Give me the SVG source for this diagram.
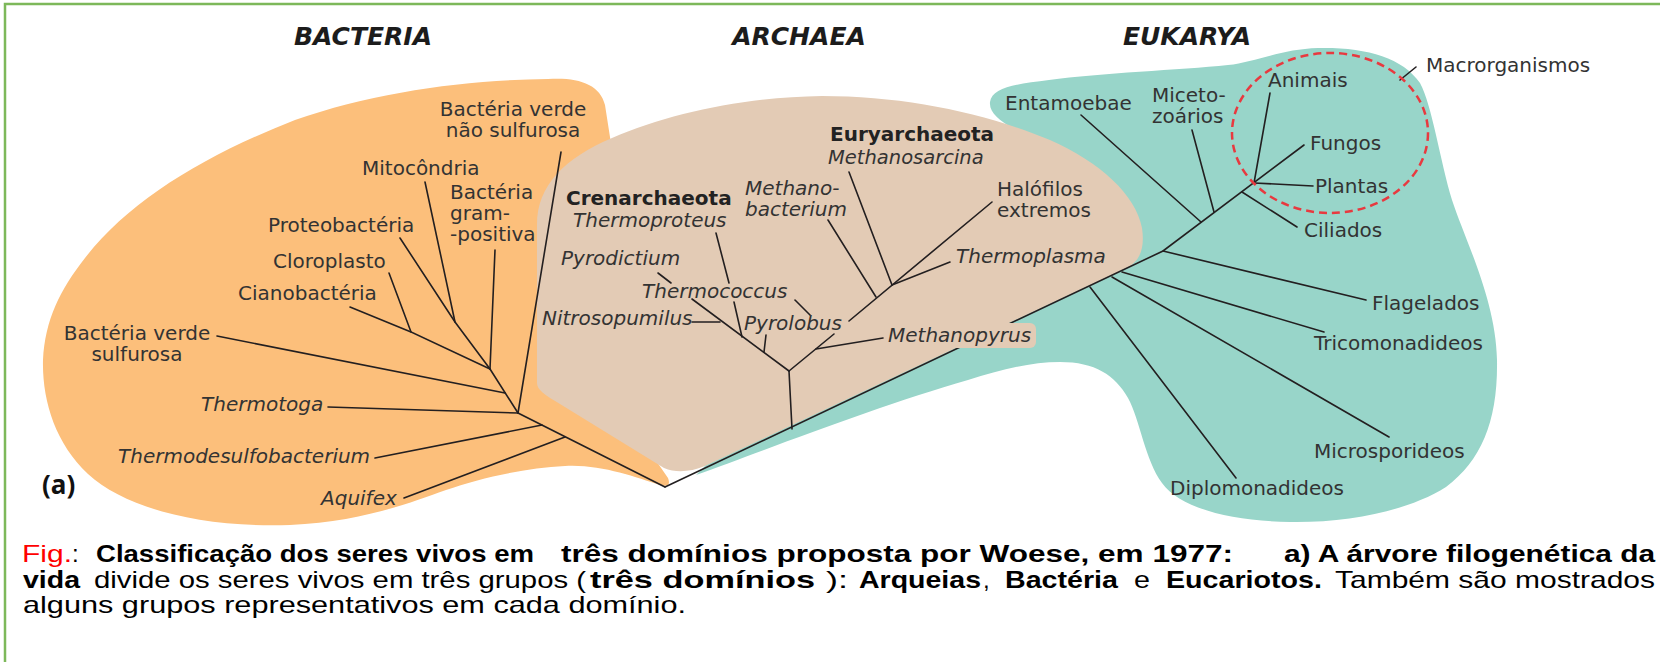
<svg xmlns="http://www.w3.org/2000/svg" width="1660" height="662" viewBox="0 0 1660 662">
<style>
.t{font-family:"DejaVu Sans","Liberation Sans",sans-serif;font-size:20px;fill:#333}
.i{font-style:italic}
.b{font-weight:bold;fill:#222}
.m{text-anchor:middle}
.d{font-family:"DejaVu Sans","Liberation Sans",sans-serif;font-size:25px;font-weight:bold;font-style:italic;fill:#1c1c1c;text-anchor:middle}
.c{font-family:"Liberation Sans",Arial,sans-serif;font-size:24px;fill:#000}
.cb{font-weight:bold}
.ln{stroke:#231f20;stroke-width:1.6;fill:none;stroke-linecap:round}
</style>
<rect width="1660" height="662" fill="#fff"/>
<path d="M5,662 V4 H1660" fill="none" stroke="#7db85a" stroke-width="2.5"/>

<g id="blobs">
<path id="blob-bacteria" fill="#fcbf7b" d="M548,79 C578,77 600,84 605,105 L612,150 L628,420 L668,478 Q672,488 660,485 C635,477 600,464 565,466 C525,468 480,478 446,490 C410,503 360,522 290,525 C200,528 125,508 88,474 C55,443 42,400 43,360 C45,320 60,290 85,258 C130,200 205,155 295,120 C375,92 465,80 548,79 Z"/>
<path id="blob-eukarya" fill="#98d5c9" d="M990,102 C992,88 1015,84 1049,80 C1100,73 1180,70 1228,65 C1255,62 1282,49 1318,48 C1365,47 1402,57 1420,83 C1432,105 1440,160 1452,200 C1465,240 1496,300 1497,360 C1498,420 1482,460 1446,487 C1410,510 1350,523 1290,522 C1230,521 1180,508 1162,483 C1145,460 1140,420 1128,398 C1115,375 1095,362 1060,362 C1030,362 1000,370 968,380 C880,405 760,452 696,475 L705,466 L800,300 L1012,128 C1000,120 989,113 990,102 Z"/>
<path id="blob-archaea" fill="#e3cbb5" d="M537,383 L537,225 C537,185 565,158 612,138 C670,113 745,97 822,96 C905,96 985,113 1050,140 C1100,162 1136,195 1142,228 C1145,248 1140,262 1126,268 L705,466 C690,472 676,473 664,468 L560,404 C545,395 537,390 537,383 Z"/>
</g>

<g id="connectors">
<path class="ln" d="M665,487 L518,413"/>
<path class="ln" d="M404,498 L565,437"/>
<path class="ln" d="M375,458 L542,425"/>
<path class="ln" d="M328,407 L518,413"/>
<path class="ln" d="M518,413 L561,152"/>
<path class="ln" d="M518,413 L490,369"/>
<path class="ln" d="M217,336 L505,393"/>
<path class="ln" d="M490,369 L495,250"/>
<path class="ln" d="M490,369 L455,322 L400,238"/>
<path class="ln" d="M455,322 L425,182"/>
<path class="ln" d="M490,369 L411,332 L389,273"/>
<path class="ln" d="M411,332 L350,307"/>
<path class="ln" d="M792,429 L789,371"/>
<path class="ln" d="M789,371 L692,299"/>
<path class="ln" d="M671,283 L658,273"/>
<path class="ln" d="M764,352 L766,335"/>
<path class="ln" d="M716,233 L729,283"/>
<path class="ln" d="M734,302 L742,337"/>
<path class="ln" d="M692,322 L720,322"/>
<path class="ln" d="M795,300 L810,315"/>
<path class="ln" d="M789,371 L834,334"/>
<path class="ln" d="M849,321 L992,202"/>
<path class="ln" d="M883,338 L816,349"/>
<path class="ln" d="M828,220 L876,297"/>
<path class="ln" d="M849,172 L892,285"/>
<path class="ln" d="M950,262 L892,285"/>
<path class="ln" d="M665,487 L1163,251 L1304,145"/>
<path class="ln" d="M1081,115 L1201,222"/>
<path class="ln" d="M1192,130 L1214,212"/>
<path class="ln" d="M1270,93 L1254,183"/>
<path class="ln" d="M1254,183 L1313,186"/>
<path class="ln" d="M1242,192 L1297,227"/>
<path class="ln" d="M1163,251 L1366,300"/>
<path class="ln" d="M1122,272 L1324,332"/>
<path class="ln" d="M1112,277 L1389,437"/>
<path class="ln" d="M1090,287 L1236,478"/>
<path class="ln" d="M1400,80 L1416,67"/>
</g>

<ellipse id="macro-circle" cx="1330" cy="133" rx="98" ry="80" fill="none" stroke="#e8393f" stroke-width="2.5" stroke-dasharray="8 5"/>

<g id="n-titles">
<text class="d" x="363" y="45">BACTERIA</text>
<text class="d" x="799" y="45">ARCHAEA</text>
<text class="d" x="1187" y="45">EUKARYA</text>
</g>

<g id="n-bverde-nao"><text class="t m" x="513" y="116">Bactéria verde<tspan x="513" dy="21">não sulfurosa</tspan></text></g>
<g id="n-mitocondria"><text class="t" x="362" y="175">Mitocôndria</text></g>
<g id="n-grampos"><text class="t" x="450" y="199">Bactéria<tspan x="450" dy="21">gram-</tspan><tspan x="450" dy="21">-positiva</tspan></text></g>
<g id="n-proteo"><text class="t" x="268" y="232">Proteobactéria</text></g>
<g id="n-cloro"><text class="t" x="273" y="268">Cloroplasto</text></g>
<g id="n-ciano"><text class="t" x="238" y="300">Cianobactéria</text></g>
<g id="n-bverde-sulf"><text class="t m" x="137" y="340">Bactéria verde<tspan x="137" dy="21">sulfurosa</tspan></text></g>
<g id="n-thermotoga"><text class="t i" x="201" y="411">Thermotoga</text></g>
<g id="n-thermodesulfo"><text class="t i" x="118" y="463">Thermodesulfobacterium</text></g>
<g id="n-aquifex"><text class="t i" x="321" y="505">Aquifex</text></g>
<g id="n-a"><text x="42" y="494" style="font-family:'Noto Sans','Liberation Sans',sans-serif;font-size:26px;font-weight:bold;fill:#111">(a)</text></g>

<g id="n-cren"><text class="t b" x="566" y="205">Crenarchaeota</text></g>
<g id="n-thermoproteus"><text class="t i" x="573" y="227">Thermoproteus</text></g>
<g id="n-pyrodictium"><text class="t i" x="561" y="265">Pyrodictium</text></g>
<g id="n-thermococcus"><text class="t i" x="642" y="298">Thermococcus</text></g>
<g id="n-nitroso"><text class="t i" x="542" y="325">Nitrosopumilus</text></g>
<g id="n-pyrolobus"><text class="t i" x="744" y="330">Pyrolobus</text></g>
<g id="n-methanobact"><text class="t i" x="745" y="195">Methano-<tspan x="745" dy="21">bacterium</tspan></text></g>
<g id="n-eury"><text class="t b" x="830" y="141">Euryarchaeota</text></g>
<g id="n-methanosarcina"><text class="t i" x="828" y="164" style="font-size:19.5px">Methanosarcina</text></g>
<g id="n-halofilos"><text class="t" x="997" y="196">Halófilos<tspan x="997" dy="21">extremos</tspan></text></g>
<g id="n-thermoplasma"><text class="t i" x="956" y="263">Thermoplasma</text></g>
<g id="n-methanopyrus"><rect x="884" y="323" width="152" height="25" rx="6" fill="#e3cbb5"/><text class="t i" x="888" y="342">Methanopyrus</text></g>

<g id="n-entamoebae"><text class="t" x="1005" y="110">Entamoebae</text></g>
<g id="n-miceto"><text class="t" x="1152" y="102">Miceto-<tspan x="1152" dy="21">zoários</tspan></text></g>
<g id="n-animais"><text class="t" x="1268" y="87">Animais</text></g>
<g id="n-fungos"><text class="t" x="1310" y="150">Fungos</text></g>
<g id="n-plantas"><text class="t" x="1315" y="193">Plantas</text></g>
<g id="n-ciliados"><text class="t" x="1304" y="237">Ciliados</text></g>
<g id="n-macro"><text class="t" x="1426" y="72">Macrorganismos</text></g>
<g id="n-flagelados"><text class="t" x="1372" y="310">Flagelados</text></g>
<g id="n-tricomon"><text class="t" x="1314" y="350">Tricomonadideos</text></g>
<g id="n-microspor"><text class="t" x="1314" y="458">Microsporideos</text></g>
<g id="n-diplomon"><text class="t" x="1170" y="495">Diplomonadideos</text></g>

<g id="caption">
<text class="c" x="22" y="562" style="fill:#ff0000" textLength="50" lengthAdjust="spacingAndGlyphs">Fig.</text>
<text class="c" x="72" y="562">:</text>
<text class="c cb" x="96" y="562" textLength="438" lengthAdjust="spacingAndGlyphs">Classificação dos seres vivos em</text>
<text class="c cb" x="561" y="562" textLength="672" lengthAdjust="spacingAndGlyphs">três domínios proposta por Woese, em 1977:</text>
<text class="c cb" x="1284" y="562" textLength="371" lengthAdjust="spacingAndGlyphs">a) A árvore filogenética da</text>
<text class="c cb" x="23" y="588" textLength="57" lengthAdjust="spacingAndGlyphs">vida</text>
<text class="c" x="94" y="588" textLength="492" lengthAdjust="spacingAndGlyphs">divide os seres vivos em três grupos (</text>
<text class="c cb" x="590" y="588" textLength="225" lengthAdjust="spacingAndGlyphs">três domínios</text>
<text class="c" x="826" y="588" textLength="22" lengthAdjust="spacingAndGlyphs">):</text>
<text class="c cb" x="859" y="588" textLength="122" lengthAdjust="spacingAndGlyphs">Arqueias</text>
<text class="c" x="983" y="588">,</text>
<text class="c cb" x="1005" y="588" textLength="113" lengthAdjust="spacingAndGlyphs">Bactéria</text>
<text class="c" x="1134" y="588" textLength="16" lengthAdjust="spacingAndGlyphs">e</text>
<text class="c cb" x="1166" y="588" textLength="156" lengthAdjust="spacingAndGlyphs">Eucariotos.</text>
<text class="c" x="1335" y="588" textLength="320" lengthAdjust="spacingAndGlyphs">Também são mostrados</text>
<text class="c" x="23" y="613" textLength="663" lengthAdjust="spacingAndGlyphs">alguns grupos representativos em cada domínio.</text>
</g>
</svg>
